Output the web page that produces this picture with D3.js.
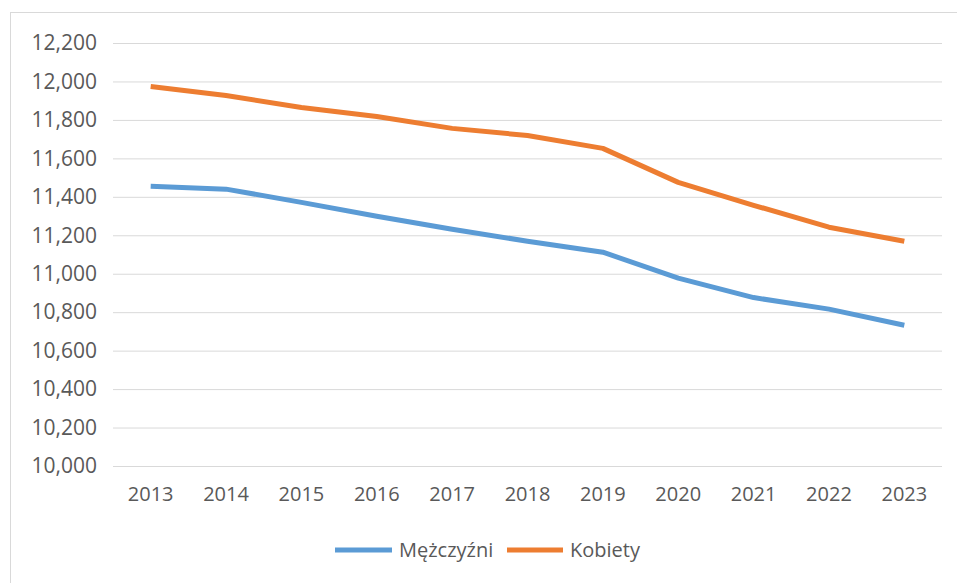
<!DOCTYPE html>
<html>
<head>
<meta charset="utf-8">
<script src="https://cdn.jsdelivr.net/npm/d3@7"></script>
<style>
	body { margin: 0; background: #fff; }
	svg { display: block; }
	.tick text { font-family: "Open Sans", sans-serif; fill: #595959; }
	.legend text { font-family: "Open Sans", sans-serif; fill: #595959; }
</style>
</head>
<body>
<svg id="chart"></svg>
<script>
const years = ["2013", "2014", "2015", "2016", "2017", "2018", "2019", "2020", "2021", "2022", "2023"];
const men = [11455, 11440, 11371, 11299, 11231, 11169, 11112, 10977, 10876, 10816, 10732];
const women = [11974, 11927, 11865, 11818, 11756, 11719, 11652, 11475, 11356, 11242, 11169];
const yTicks = [10000, 10200, 10400, 10600, 10800, 11000, 11200, 11400, 11600, 11800, 12000, 12200];
const seriesNames = ["Mężczyźni", "Kobiety"];
const seriesColors = ["#5b9bd5", "#ed7d31"];

const width = 957;
const height = 583;
const margin = { top: 43, right: 15, bottom: 117, left: 113 };

const svg = d3.select("#chart")
	.attr("width", width)
	.attr("height", height);

// chart frame
svg.append("rect")
	.attr("x", 10.5)
	.attr("y", 12.5)
	.attr("width", width)
	.attr("height", height)
	.attr("fill", "#fff")
	.attr("stroke", "#d9d9d9");

const x = d3.scaleBand()
	.domain(years)
	.range([margin.left, width - margin.right]);

const y = d3.scaleLinear()
	.domain([10000, 12200])
	.range([height - margin.bottom, margin.top]);

const yAxis = svg.append("g")
	.attr("transform", `translate(${margin.left}, 0)`)
	.call(d3.axisLeft(y)
		.tickValues(yTicks)
		.tickFormat(d3.format(","))
		.tickSize(-(width - margin.left - margin.right))
		.tickPadding(16));
yAxis.select(".domain").remove();
yAxis.selectAll(".tick line").attr("stroke", "#d9d9d9");
yAxis.selectAll(".tick text").style("font-size", "21px");

const xAxis = svg.append("g")
	.attr("transform", `translate(0, ${height - margin.bottom})`)
	.call(d3.axisBottom(x).tickSize(0).tickPadding(21));
xAxis.select(".domain").remove();
xAxis.selectAll(".tick text").style("font-size", "20px");

const line = d3.line()
	.x((d, i) => x(years[i]) + x.bandwidth() / 2)
	.y((d) => y(d));

[men, women].forEach((values, i) => {
	svg.append("path")
		.datum(values)
		.attr("fill", "none")
		.attr("stroke", seriesColors[i])
		.attr("stroke-width", 5)
		.attr("stroke-linejoin", "round")
		.attr("d", line);
});

// legend
const legend = svg.append("g").attr("class", "legend");
const legendItems = [
	{ x0: 335, x1: 392, tx: 399 },
	{ x0: 507, x1: 563, tx: 570 }
];
legendItems.forEach((item, i) => {
	legend.append("line")
		.attr("x1", item.x0)
		.attr("x2", item.x1)
		.attr("y1", 550)
		.attr("y2", 550)
		.attr("stroke", seriesColors[i])
		.attr("stroke-width", 5);
	legend.append("text")
		.attr("x", item.tx)
		.attr("y", 550)
		.attr("dy", "0.35em")
		.style("font-size", "20px")
		.text(seriesNames[i]);
});
</script>
</body>
</html>
